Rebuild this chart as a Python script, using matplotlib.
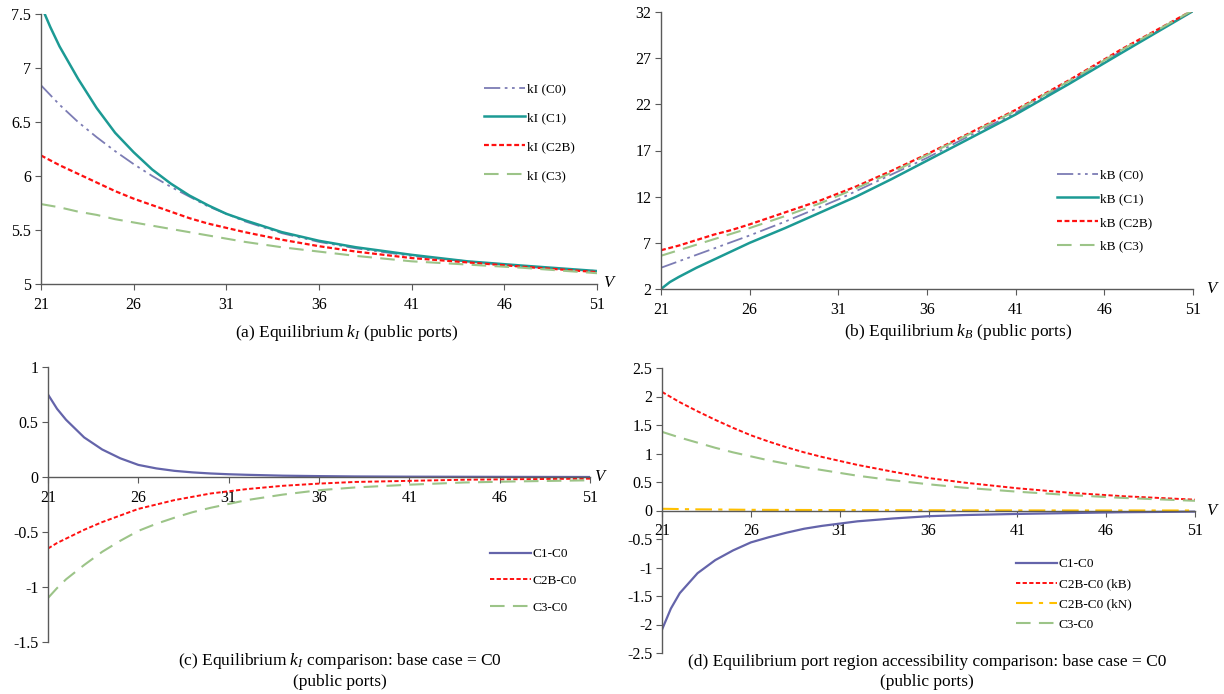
import numpy as np
import matplotlib
matplotlib.use('Agg')
import matplotlib.pyplot as plt

plt.rcParams['font.family'] = ['Liberation Serif', 'DejaVu Serif']
plt.rcParams['mathtext.fontset'] = 'custom'
plt.rcParams['mathtext.it'] = 'Liberation Serif:italic'
plt.rcParams['mathtext.rm'] = 'Liberation Serif'

V = [21, 21.5, 22, 23, 24, 25, 26, 27, 28, 29, 30, 31, 32, 34, 36, 38, 41, 44, 47, 51]

# (a) equilibrium kI
kI_C0 = [6.84, 6.75, 6.66, 6.50, 6.36, 6.23, 6.11, 6.00, 5.90, 5.81, 5.72, 5.65, 5.58,
         5.47, 5.39, 5.33, 5.26, 5.21, 5.16, 5.12]
kI_C1 = [7.58, 7.38, 7.20, 6.90, 6.63, 6.40, 6.22, 6.06, 5.93, 5.82, 5.73, 5.65, 5.59,
         5.48, 5.40, 5.34, 5.27, 5.21, 5.17, 5.12]
kI_C2B = [6.19, 6.145, 6.10, 6.02, 5.94, 5.86, 5.79, 5.73, 5.67, 5.61, 5.56, 5.52, 5.48,
          5.41, 5.35, 5.30, 5.24, 5.20, 5.16, 5.11]
kI_C3 = [5.74, 5.725, 5.71, 5.67, 5.64, 5.60, 5.57, 5.54, 5.51, 5.48, 5.45, 5.42, 5.39,
         5.34, 5.30, 5.26, 5.21, 5.18, 5.15, 5.10]

# (b) equilibrium kB
kB_C0 = [4.3, 4.65, 5.0, 5.7, 6.4, 7.1, 7.8, 8.55, 9.3, 10.1, 10.9, 11.7, 12.6,
         14.4, 16.2, 18.2, 21.1, 24.4, 27.8, 32.1]
kB_C1 = [2.0, 2.75, 3.3, 4.3, 5.2, 6.1, 7.0, 7.8, 8.6, 9.45, 10.3, 11.15, 12.0,
         13.9, 15.9, 17.9, 20.9, 24.2, 27.6, 32.1]
kB_C2B = [6.2, 6.45, 6.7, 7.3, 7.9, 8.4, 9.0, 9.65, 10.3, 10.95, 11.6, 12.35, 13.1,
          14.8, 16.6, 18.5, 21.4, 24.6, 28.0, 32.2]
kB_C3 = [5.6, 5.9, 6.2, 6.8, 7.4, 8.0, 8.6, 9.25, 9.9, 10.6, 11.3, 12.1, 12.9,
         14.6, 16.5, 18.4, 21.3, 24.5, 27.9, 32.2]

# (c) kI differences vs C0
c_C1 = [0.75, 0.62, 0.52, 0.36, 0.25, 0.17, 0.11, 0.078, 0.056, 0.042, 0.032, 0.025, 0.02,
        0.012, 0.008, 0.005, 0.003, 0.002, 0.001, 0.0]
c_C2B = [-0.65, -0.60, -0.56, -0.48, -0.41, -0.35, -0.29, -0.25, -0.21, -0.18, -0.15, -0.13, -0.11,
         -0.08, -0.06, -0.045, -0.035, -0.025, -0.02, -0.015]
c_C3 = [-1.10, -1.01, -0.93, -0.80, -0.68, -0.58, -0.49, -0.425, -0.37, -0.32, -0.28, -0.245, -0.21,
        -0.16, -0.12, -0.095, -0.07, -0.05, -0.04, -0.03]

# (d) accessibility differences vs C0
d_C1 = [-2.09, -1.72, -1.45, -1.10, -0.87, -0.70, -0.56, -0.47, -0.39, -0.32, -0.27, -0.23, -0.19,
        -0.14, -0.10, -0.08, -0.06, -0.045, -0.03, -0.02]
d_C2B_kB = [2.08, 1.99, 1.90, 1.74, 1.59, 1.45, 1.32, 1.21, 1.11, 1.02, 0.94, 0.87, 0.80,
            0.68, 0.57, 0.49, 0.39, 0.31, 0.25, 0.19]
d_C2B_kN = [0.03, 0.028, 0.025, 0.02, 0.018, 0.015, 0.012, 0.011, 0.01, 0.009, 0.008, 0.007, 0.006,
            0.005, 0.004, 0.003, 0.002, 0.001, 0.001, 0.0]
d_C3 = [1.38, 1.33, 1.28, 1.19, 1.10, 1.02, 0.95, 0.88, 0.82, 0.76, 0.71, 0.66, 0.61,
        0.53, 0.46, 0.40, 0.33, 0.27, 0.22, 0.17]

x_ticks = [21, 26, 31, 36, 41, 46, 51]

purple = '#7c7cb4'
teal = '#1c9a94'
red = '#ff1010'
green = '#9cc488'
navy = '#6464aa'
gold = '#ffc000'
axis_col = '#5a5a5a'

s_dd = (0, (9, 2.5, 1.5, 2.5, 1.5, 2.5))
s_dot = (0, (2.2, 1.2))
s_dash = (0, (7, 4))
s_dashdot = (0, (8, 3, 2, 3))

fig = plt.figure(figsize=(12.24, 6.94), dpi=100)


def style_axes(ax, ylo, yhi, ystep, zero_axis=False):
    for s in ['top', 'right']:
        ax.spines[s].set_visible(False)
    for s in ['left', 'bottom']:
        ax.spines[s].set_color(axis_col)
        ax.spines[s].set_linewidth(1.0)
    if zero_axis:
        ax.spines['bottom'].set_position(('data', 0))
    ax.set_xlim(21, 51)
    ax.set_ylim(ylo, yhi)
    ax.set_xticks(x_ticks)
    ax.set_yticks(np.arange(ylo, yhi + ystep / 2, ystep))
    ax.yaxis.set_major_formatter(plt.FormatStrFormatter('%g'))
    ax.tick_params(direction='out', length=4, color=axis_col, labelsize=11.5, pad=3)
    ax.tick_params(axis='x', pad=5)


def add_legend(ax, x, y, spacing):
    ax.legend(loc='upper left', bbox_to_anchor=(x / 1224, 1 - y / 694),
              bbox_transform=fig.transFigure, frameon=False, fontsize=9.5,
              handlelength=3.1, handletextpad=0.15, labelspacing=spacing,
              borderpad=0, borderaxespad=0)


# (a)
ax = fig.add_axes([41 / 1224, 1 - 284 / 694, 556 / 1224, 270 / 694])
ax.plot(V, kI_C0, color=purple, ls=s_dd, lw=1.3, label='kI (C0)')
ax.plot(V, kI_C1, color=teal, lw=1.8, label='kI (C1)')
ax.plot(V, kI_C2B, color=red, ls=s_dot, lw=1.6, label='kI (C2B)')
ax.plot(V, kI_C3, color=green, ls=s_dash, lw=1.5, label='kI (C3)')
style_axes(ax, 5, 7.5, 0.5)
add_legend(ax, 484, 83, 1.26)
fig.text(603 / 1224, 1 - 283 / 694, 'V', style='italic', fontsize=12, va='center')
fig.text(347 / 1224, 1 - 333 / 694, '(a) Equilibrium $k_I$ (public ports)',
         ha='center', va='center', fontsize=12.5)

# (b)
ax = fig.add_axes([661 / 1224, 1 - 289 / 694, 532 / 1224, 277 / 694])
ax.plot(V, kB_C0, color=purple, ls=s_dd, lw=1.3, label='kB (C0)')
ax.plot(V, kB_C1, color=teal, lw=1.8, label='kB (C1)')
ax.plot(V, kB_C2B, color=red, ls=s_dot, lw=1.6, label='kB (C2B)')
ax.plot(V, kB_C3, color=green, ls=s_dash, lw=1.5, label='kB (C3)')
style_axes(ax, 2, 32, 5)
add_legend(ax, 1057, 169, 0.88)
fig.text(1206 / 1224, 1 - 289 / 694, 'V', style='italic', fontsize=12, va='center')
fig.text(958 / 1224, 1 - 332 / 694, '(b) Equilibrium $k_B$ (public ports)',
         ha='center', va='center', fontsize=12.5)

# (c)
ax = fig.add_axes([48 / 1224, 1 - 642 / 694, 542 / 1224, 275 / 694])
ax.plot(V, c_C1, color=navy, lw=1.6, label='C1-C0')
ax.plot(V, c_C2B, color=red, ls=s_dot, lw=1.4, label='C2B-C0')
ax.plot(V, c_C3, color=green, ls=s_dash, lw=1.5, label='C3-C0')
style_axes(ax, -1.5, 1, 0.5, zero_axis=True)
add_legend(ax, 490, 548, 1.1)
fig.text(594 / 1224, 1 - 477 / 694, 'V', style='italic', fontsize=12, va='center')
fig.text(340 / 1224, 1 - 661 / 694, '(c) Equilibrium $k_I$ comparison: base case = C0',
         ha='center', va='center', fontsize=12.5)
fig.text(340 / 1224, 1 - 682 / 694, '(public ports)', ha='center', va='center', fontsize=12.5)

# (d)
ax = fig.add_axes([662 / 1224, 1 - 653 / 694, 533 / 1224, 285 / 694])
ax.plot(V, d_C1, color=navy, lw=1.6, label='C1-C0')
ax.plot(V, d_C2B_kB, color=red, ls=s_dot, lw=1.4, label='C2B-C0 (kB)')
ax.plot(V, d_C2B_kN, color=gold, ls=s_dashdot, lw=1.5, label='C2B-C0 (kN)')
ax.plot(V, d_C3, color=green, ls=s_dash, lw=1.5, label='C3-C0')
style_axes(ax, -2.5, 2.5, 0.5, zero_axis=True)
add_legend(ax, 1016, 558, 0.6)
fig.text(1206 / 1224, 1 - 511 / 694, 'V', style='italic', fontsize=12, va='center')
fig.text(927 / 1224, 1 - 662 / 694, '(d) Equilibrium port region accessibility comparison: base case = C0',
         ha='center', va='center', fontsize=12.5)
fig.text(927 / 1224, 1 - 682 / 694, '(public ports)', ha='center', va='center', fontsize=12.5)

fig.savefig('out.png', dpi=100)
